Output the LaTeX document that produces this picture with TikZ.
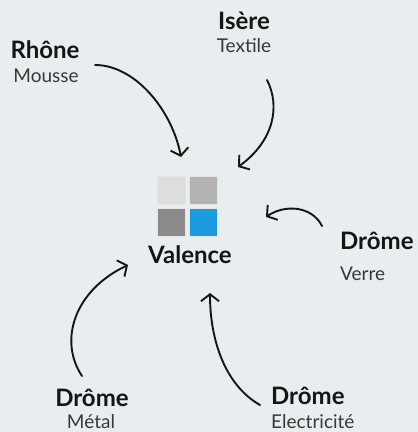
\documentclass[tikz,border=0pt]{standalone}
\usepackage{fontspec}
\setmainfont{Lato}
\usetikzlibrary{arrows.meta}
\definecolor{bg}{HTML}{E8EDF0}
\definecolor{sqA}{HTML}{DDDDDD}
\definecolor{sqB}{HTML}{B3B3B3}
\definecolor{sqC}{HTML}{8A8A8A}
\definecolor{sqD}{HTML}{1B9AE0}
\definecolor{ink}{HTML}{151515}
\begin{document}
\begin{tikzpicture}[x=1pt,y=-1pt,
  head/.style={font=\fontsize{24}{28}\selectfont\bfseries, inner sep=0pt, text=ink},
  sub/.style={font=\fontsize{19}{22}\selectfont, inner sep=0pt, text=ink!85},
  arr/.style={line width=1.9pt, line cap=round, draw=ink, -{Straight Barb[length=7pt,width=18pt,line width=1.9pt]}},
  sq/.style={minimum size=28pt, inner sep=0pt, draw=white!80!gray, line width=0.5pt}]
\fill[bg] (0,0) rectangle (418,432);
\useasboundingbox (0,0) rectangle (418,432);
% logo squares
\node[sq, fill=sqA] (s1) at (171,190.5) {};
\node[sq, fill=sqB] (s2) at (203.5,190.5) {};
\node[sq, fill=sqC] (s3) at (171,222.5) {};
\node[sq, fill=sqD] (s4) at (203.5,222.5) {};
\node[head, anchor=base] (val) at (190,263) {Valence};
% labels
\node[head, anchor=base] (rh) at (45,58) {Rhône};
\node[sub, anchor=base] (rhs) at (46,82) {Mousse};
\node[head, anchor=base] (is) at (244,29) {Isère};
\node[sub, anchor=base] (iss) at (244,52) {Textile};
\node[head, anchor=base west] (dv) at (340,249) {Drôme};
\node[sub, anchor=base west] (dvs) at (340,280) {Verre};
\node[head, anchor=base] (dm) at (92,406) {Drôme};
\node[sub, anchor=base] (dms) at (91,428) {Métal};
\node[head, anchor=base west] (de) at (271,404) {Drôme};
\node[sub, anchor=base west] (des) at (271,428) {Electricité};
% arrows
\coordinate (a1s) at (95,65);  \coordinate (a1e) at (181,157);
\coordinate (a2s) at (267,80); \coordinate (a2e) at (238,167);
\coordinate (a3s) at (322,226);\coordinate (a3e) at (266,217);
\coordinate (a4s) at (82,376); \coordinate (a4e) at (128,265);
\coordinate (a5s) at (260,405);\coordinate (a5e) at (210,293);
\draw[arr] (a1s) .. controls (135,65) and (172,110) .. (a1e);
\draw[arr] (a2s) .. controls (280,105) and (275,140) .. (a2e);
\draw[arr] (a3s) .. controls (312,206) and (285,204) .. (a3e);
\draw[arr] (a4s) .. controls (58,340) and (75,290) .. (a4e);
\draw[arr] (a5s) .. controls (225,385) and (210,340) .. (a5e);
\end{tikzpicture}
\end{document}
